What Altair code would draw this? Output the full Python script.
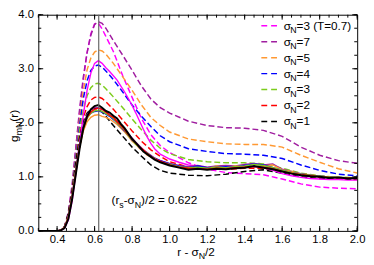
import altair as alt
import pandas as pd

# ---------------- data ----------------
R_D = [0.30, 0.40, 0.42, 0.44, 0.46, 0.48, 0.50, 0.52, 0.54, 0.56,
       0.58, 0.60, 0.62, 0.64, 0.66, 0.70, 0.75, 0.80, 0.85, 0.90,
       0.95, 1.00, 1.10, 1.20, 1.30, 1.40, 1.50, 1.60, 1.70, 1.80,
       1.90, 2.00]

D_T07 = [0, 0, 0.01, 0.07, 0.32, 0.8, 1.5, 2.2, 2.8, 3.3,
         3.65, 3.83, 3.84, 3.74, 3.6, 3.32, 2.87, 2.47, 2.08, 1.78,
         1.58, 1.45, 1.26, 1.14, 1.08, 1.06, 1.04, 0.96, 0.87, 0.81,
         0.79, 0.78]
D_S7 = [0, 0, 0.01, 0.08, 0.35, 0.85, 1.55, 2.25, 2.85, 3.3,
        3.62, 3.82, 3.87, 3.84, 3.75, 3.52, 3.25, 2.97, 2.68, 2.44,
        2.28, 2.18, 2.03, 1.95, 1.91, 1.9, 1.86, 1.75, 1.55, 1.4,
        1.3, 1.25]
D_S5 = [0, 0, 0.01, 0.07, 0.3, 0.75, 1.4, 2.05, 2.6, 2.98,
        3.2, 3.31, 3.35, 3.33, 3.27, 3.1, 2.85, 2.6, 2.33, 2.1,
        1.95, 1.83, 1.7, 1.65, 1.61, 1.6, 1.6, 1.55, 1.4, 1.27,
        1.15, 1.07]
D_S4 = [0, 0, 0.01, 0.07, 0.3, 0.72, 1.35, 1.95, 2.45, 2.78,
        2.97, 3.05, 3.07, 3.03, 2.96, 2.8, 2.57, 2.33, 2.12, 1.93,
        1.76, 1.65, 1.52, 1.47, 1.43, 1.42, 1.4, 1.34, 1.22, 1.12,
        1.05, 1.02]
D_S3 = [0, 0, 0.01, 0.07, 0.3, 0.7, 1.3, 1.85, 2.25, 2.5,
        2.65, 2.72, 2.73, 2.7, 2.63, 2.48, 2.28, 2.07, 1.87, 1.68,
        1.53, 1.43, 1.32, 1.28, 1.26, 1.26, 1.24, 1.16, 1.07, 1.02,
        0.99, 0.98]
D_S2 = [0, 0, 0.01, 0.07, 0.3, 0.7, 1.25, 1.75, 2.1, 2.3,
        2.42, 2.47, 2.48, 2.45, 2.39, 2.25, 2.05, 1.85, 1.66, 1.5,
        1.38, 1.28, 1.18, 1.15, 1.14, 1.16, 1.16, 1.1, 1.03, 0.99,
        0.96, 0.95]
D_S1 = [0, 0, 0.01, 0.08, 0.32, 0.72, 1.25, 1.72, 2.02, 2.18,
        2.25, 2.27, 2.25, 2.2, 2.12, 1.95, 1.75, 1.55, 1.38, 1.22,
        1.12, 1.07, 1.03, 1.02, 1.05, 1.1, 1.13, 1.07, 1.0, 0.97,
        0.96, 0.96]

R_S = [0.30, 0.40, 0.42, 0.44, 0.46, 0.48, 0.50, 0.52, 0.54, 0.56,
       0.58, 0.60, 0.62, 0.64, 0.66, 0.68, 0.70, 0.72, 0.74, 0.76,
       0.78, 0.80, 0.82, 0.84, 0.86, 0.88, 0.90, 0.92, 0.95, 1.00,
       1.05, 1.10, 1.15, 1.20, 1.25, 1.30, 1.35, 1.40, 1.45, 1.50,
       1.55, 1.60, 1.65, 1.70, 1.75, 1.80, 1.85, 1.90, 1.95, 2.00]

S_T07 = [0, 0, 0.01, 0.05, 0.2, 0.55, 1.05, 1.6, 2.15, 2.6,
         2.92, 3.1, 3.15, 3.1, 3.02, 2.95, 2.87, 2.79, 2.68, 2.57,
         2.45, 2.32, 2.18, 2.03, 1.88, 1.74, 1.62, 1.52, 1.42, 1.33,
         1.27, 1.22, 1.2, 1.17, 1.17, 1.16, 1.17, 1.18, 1.19, 1.17,
         1.12, 1.06, 1.02, 0.99, 0.97, 0.96, 0.95, 0.95, 0.94, 0.94]
S_S7 = [0, 0, 0.01, 0.07, 0.28, 0.66, 1.15, 1.62, 1.96, 2.15,
        2.24, 2.28, 2.28, 2.25, 2.2, 2.15, 2.1, 2.03, 1.96, 1.88,
        1.8, 1.72, 1.64, 1.57, 1.5, 1.45, 1.4, 1.35, 1.3, 1.25,
        1.21, 1.19, 1.21, 1.18, 1.2, 1.21, 1.2, 1.23, 1.25, 1.22,
        1.24, 1.14, 1.1, 1.06, 1.03, 1.01, 1.0, 0.99, 0.98, 0.98]
S_S5 = [0, 0, 0.01, 0.07, 0.27, 0.65, 1.12, 1.55, 1.85, 2.02,
        2.1, 2.14, 2.15, 2.12, 2.1, 2.07, 2.02, 1.97, 1.9, 1.83,
        1.75, 1.66, 1.6, 1.52, 1.48, 1.4, 1.37, 1.33, 1.28, 1.24,
        1.2, 1.16, 1.19, 1.15, 1.2, 1.17, 1.2, 1.18, 1.24, 1.2,
        1.22, 1.13, 1.1, 1.05, 1.04, 1.01, 1.0, 0.99, 0.98, 0.97]
S_S4 = [0, 0, 0.01, 0.06, 0.25, 0.62, 1.1, 1.57, 1.92, 2.1,
        2.18, 2.21, 2.22, 2.2, 2.16, 2.12, 2.06, 2.0, 1.92, 1.85,
        1.77, 1.68, 1.62, 1.54, 1.49, 1.43, 1.39, 1.34, 1.3, 1.24,
        1.2, 1.17, 1.2, 1.17, 1.18, 1.19, 1.18, 1.21, 1.24, 1.22,
        1.17, 1.12, 1.08, 1.05, 1.03, 1.01, 1.0, 0.98, 0.98, 0.97]
S_S3 = [0, 0, 0.01, 0.06, 0.25, 0.62, 1.1, 1.56, 1.9, 2.08,
        2.18, 2.22, 2.23, 2.21, 2.17, 2.13, 2.08, 2.0, 1.93, 1.86,
        1.76, 1.69, 1.6, 1.55, 1.48, 1.44, 1.38, 1.34, 1.28, 1.23,
        1.19, 1.17, 1.18, 1.16, 1.18, 1.17, 1.19, 1.2, 1.23, 1.21,
        1.17, 1.12, 1.08, 1.05, 1.03, 1.01, 1.0, 0.99, 0.99, 0.98]
S_S2 = [0, 0, 0.01, 0.06, 0.24, 0.6, 1.08, 1.55, 1.9, 2.1,
        2.2, 2.25, 2.27, 2.25, 2.2, 2.14, 2.1, 2.02, 1.95, 1.87,
        1.78, 1.7, 1.62, 1.55, 1.5, 1.43, 1.38, 1.33, 1.29, 1.22,
        1.18, 1.16, 1.15, 1.14, 1.16, 1.15, 1.17, 1.18, 1.19, 1.18,
        1.15, 1.1, 1.07, 1.04, 1.02, 1.0, 0.99, 0.98, 0.98, 0.97]
S_S1 = [0, 0, 0.01, 0.05, 0.22, 0.58, 1.05, 1.52, 1.9, 2.12,
        2.25, 2.31, 2.33, 2.28, 2.22, 2.19, 2.13, 2.08, 1.98, 1.9,
        1.8, 1.7, 1.63, 1.55, 1.47, 1.42, 1.37, 1.32, 1.27, 1.21,
        1.17, 1.13, 1.15, 1.13, 1.15, 1.14, 1.16, 1.17, 1.2, 1.17,
        1.14, 1.1, 1.06, 1.03, 1.01, 1.0, 0.98, 0.99, 0.97, 0.98]

LEG_KEYS = ["d_t07", "d7", "d5", "d4", "d3", "d2", "d1"]
LEG_LABELS = ["=3 (T=0.7)", "=7", "=5", "=4", "=3", "=2", "=1"]

X_MAJOR = [0.4, 0.6, 0.8, 1.0, 1.2, 1.4, 1.6, 1.8, 2.0]
Y_MAJOR = [0.0, 1.0, 2.0, 3.0, 4.0]
R_MARK = 0.622

COLORS = {
    "d_t07": "#ff00ff", "d7": "#a01ea0", "d5": "#ff9933", "d4": "#0000ff",
    "d3": "#7ccc1c", "d2": "#ff0000", "d1": "#000000",
    "s_t07": "#ff00ff", "s7": "#a01ea0", "s5": "#ff9933", "s4": "#0000ff",
    "s3": "#7ccc1c", "s2": "#ff0000", "s1": "#000000",
}

# ---------------- build tables ----------------
def long(rgrid, series):
    rows = []
    for key, vals in series.items():
        for r, g in zip(rgrid, vals):
            rows.append({"s": key, "r": r, "g": g})
    return pd.DataFrame(rows)

df_d = long(R_D, {"d_t07": D_T07, "d7": D_S7, "d5": D_S5, "d4": D_S4,
                  "d3": D_S3, "d2": D_S2, "d1": D_S1})
df_s = long(R_S, {"s_t07": S_T07, "s7": S_S7, "s5": S_S5, "s4": S_S4,
                  "s3": S_S3, "s2": S_S2})
df_k = long(R_S, {"s1": S_S1})

W, H = 326, 221
FONT = "Liberation Sans"

xs = alt.Scale(domain=[0.3, 2.0], nice=False, zero=False)
ys = alt.Scale(domain=[0, 4], nice=False, zero=False)
X = alt.X("r:Q", scale=xs, axis=alt.Axis(values=X_MAJOR, format=".1f", title=None,
          ticks=False, tickSize=0, domain=False, grid=False, labelPadding=3,
          labelFontSize=11.5, labelFont=FONT, labelColor="black",
          labelFlush=False, labelOverlap=False))
Y = alt.Y("g:Q", scale=ys, axis=alt.Axis(values=Y_MAJOR, format=".1f", title=None,
          ticks=False, tickSize=0, domain=False, grid=False, labelPadding=5,
          labelFontSize=11.5, labelFont=FONT, labelColor="black",
          labelFlush=False, labelOverlap=False))
color = alt.Color("s:N", scale=alt.Scale(domain=list(COLORS), range=list(COLORS.values())),
                  legend=None)

dashed = alt.Chart(df_d).mark_line(strokeDash=[6, 3], strokeWidth=1.5, clip=True).encode(
    x=X, y=Y, color=color, detail="s:N")
solid = alt.Chart(df_s).mark_line(strokeWidth=1.4, clip=True).encode(
    x=X, y=Y, color=color, detail="s:N")
black = alt.Chart(df_k).mark_line(strokeWidth=2, clip=True).encode(
    x=X, y=Y, color=color)

vline = alt.Chart(pd.DataFrame({"r": [R_MARK]})).mark_rule(
    color="#666666", strokeWidth=1.2).encode(x=X, y=alt.value(0), y2=alt.value(H))

# inward ticks on all four sides
x_minor = [round(0.3 + 0.05 * i, 2) for i in range(35)]
y_minor = [round(0.25 * i, 2) for i in range(17)]
dfx_maj = pd.DataFrame({"r": X_MAJOR})
dfx_min = pd.DataFrame({"r": x_minor})
dfy_maj = pd.DataFrame({"g": Y_MAJOR})
dfy_min = pd.DataFrame({"g": y_minor})
tk = dict(color="black", strokeWidth=1)
ticks = [
    alt.Chart(dfx_maj).mark_rule(**tk).encode(x=X, y=alt.value(H), y2=alt.value(H - 5)),
    alt.Chart(dfx_min).mark_rule(**tk).encode(x=X, y=alt.value(H), y2=alt.value(H - 3)),
    alt.Chart(dfx_maj).mark_rule(**tk).encode(x=X, y=alt.value(0), y2=alt.value(5)),
    alt.Chart(dfx_min).mark_rule(**tk).encode(x=X, y=alt.value(0), y2=alt.value(3)),
    alt.Chart(dfy_maj).mark_rule(**tk).encode(y=Y, x=alt.value(0), x2=alt.value(5)),
    alt.Chart(dfy_min).mark_rule(**tk).encode(y=Y, x=alt.value(0), x2=alt.value(3)),
    alt.Chart(dfy_maj).mark_rule(**tk).encode(y=Y, x=alt.value(W), x2=alt.value(W - 5)),
    alt.Chart(dfy_min).mark_rule(**tk).encode(y=Y, x=alt.value(W), x2=alt.value(W - 3)),
]

# legend (drawn by hand to get the subscript N)
df_leg = pd.DataFrame({"s": LEG_KEYS, "lab": LEG_LABELS,
                       "g": [3.795 - 0.295 * i for i in range(len(LEG_KEYS))]})
leg_line = alt.Chart(df_leg).mark_rule(strokeDash=[6, 4], strokeWidth=1.5).encode(
    x=alt.value(228), x2=alt.value(244), y=Y, color=color)
leg_sig = alt.Chart(df_leg).mark_text(align="left", baseline="alphabetic", fontSize=12,
                                      font=FONT, color="black", dy=4, text="σ").encode(
    x=alt.value(251), y=Y)
leg_sub = alt.Chart(df_leg).mark_text(align="left", baseline="alphabetic", fontSize=9,
                                      font=FONT, color="black", dy=7.5, text="N").encode(
    x=alt.value(257.5), y=Y)
leg_lab = alt.Chart(df_leg).mark_text(align="left", baseline="alphabetic", fontSize=12,
                                      font=FONT, color="black", dy=4).encode(
    x=alt.value(264), y=Y, text="lab:N")

# annotation (r_s - σ_N)/2 = 0.622
ann_df = pd.DataFrame({"r": [0.69], "g": [0.489]})
def ann(txt, dx, size=12, dy=0):
    return alt.Chart(ann_df).mark_text(align="left", baseline="alphabetic", fontSize=size,
                                       font=FONT, color="black", dx=dx, dy=dy,
                                       text=txt).encode(x=X, y=Y)
annot = [ann("(r", 0), ann("s", 8, 9, 3.5), ann("-σ", 12.5), ann("N", 23.7, 9, 3.5),
         ann(")/2 = 0.622", 30.2)]

# axis titles with subscripts
one = pd.DataFrame({"k": [0]})
def txt(t, x, y, size=12, angle=0):
    kw = dict(align="left", baseline="alphabetic", fontSize=size, font=FONT,
              color="black", text=t)
    if angle:
        kw["angle"] = angle
    return alt.Chart(one).mark_text(**kw).encode(x=alt.value(x), y=alt.value(y))

titles = [
    txt("r - σ", 142, 246.5),
    txt("N", 163.9, 250, 9),
    txt("/2", 170.4, 246.5),
    txt("g", -20.5, 130, 12, 270),
    txt("mN", -17, 123.3, 9, 270),
    txt("(r)", -20.5, 109.3, 12, 270),
]

chart = alt.layer(
    dashed, solid, black, vline, *ticks, leg_line, leg_sig, leg_sub, leg_lab,
    *annot, *titles
).properties(
    width=W, height=H,
    padding={"left": 31, "top": 4, "right": 9, "bottom": 32},
    autosize=alt.AutoSizeParams(type="none"),
    background="white",
).configure_view(stroke="black", strokeWidth=1)

chart.save("out.html", embed_options={"renderer": "svg", "actions": False})
